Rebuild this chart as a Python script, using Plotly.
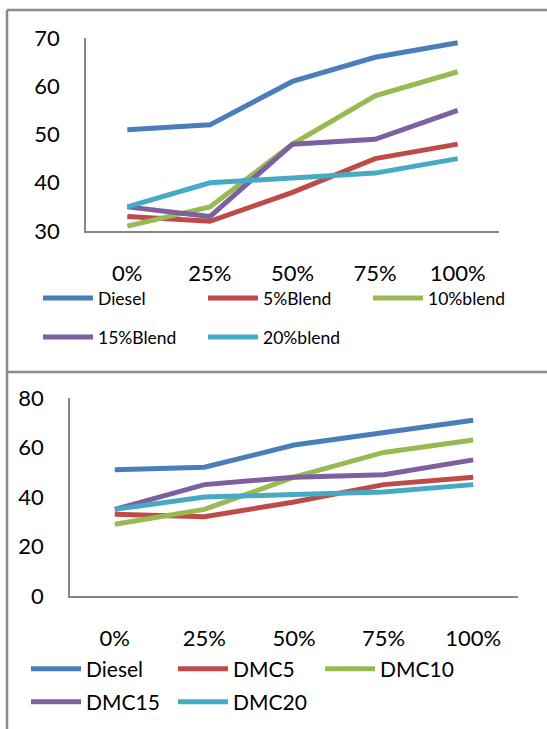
import plotly.graph_objects as go

# Load share categories on the x axis
loads = ["0%", "25%", "50%", "75%", "100%"]

# Upper panel series
top_names = ["Diesel", "5%Blend", "10%blend", "15%Blend", "20%blend"]
top_diesel = [51, 52, 61, 66, 69]
top_b5 = [33, 32, 38, 45, 48]
top_b10 = [31, 35, 48, 58, 63]
top_b15 = [35, 33, 48, 49, 55]
top_b20 = [35, 40, 41, 42, 45]

# Lower panel series
bot_names = ["Diesel", "DMC5", "DMC10", "DMC15", "DMC20"]
bot_diesel = [51, 52, 61, 66, 71]
bot_dmc5 = [33, 32, 38, 45, 48]
bot_dmc10 = [29, 35, 48, 58, 63]
bot_dmc15 = [35, 45, 48, 49, 55]
bot_dmc20 = [35, 40, 41, 42, 45]

colors = ["#4a7ebb", "#be4b48", "#98b954", "#7d60a0", "#46aac5"]

W, H = 547, 729
FONT = "Lato, 'Open Sans', sans-serif"
AXIS_GRAY = "#868686"
FRAME_GRAY = "#8c8c8c"


def px(x):
    return x / W


def py(y):
    return 1 - y / H


fig = go.Figure()

top_series = [top_diesel, top_b5, top_b10, top_b15, top_b20]
bot_series = [bot_diesel, bot_dmc5, bot_dmc10, bot_dmc15, bot_dmc20]

# Legend rows: first three entries on row one, the rest on row two
for i, (name, vals) in enumerate(zip(top_names, top_series)):
    fig.add_trace(go.Scatter(
        x=loads, y=vals, name=name, mode="lines",
        line=dict(color=colors[i], width=5),
        xaxis="x", yaxis="y",
        legend="legend" if i < 3 else "legend2",
    ))

for i, (name, vals) in enumerate(zip(bot_names, bot_series)):
    fig.add_trace(go.Scatter(
        x=loads, y=vals, name=name, mode="lines",
        line=dict(color=colors[i], width=5),
        xaxis="x2", yaxis="y2",
        legend="legend3" if i < 3 else "legend4",
    ))

axis_common = dict(
    showline=True, linecolor=AXIS_GRAY, linewidth=1.5,
    showgrid=False, zeroline=False, ticks="", automargin=False,
    tickfont=dict(family=FONT, size=22, color="#000000"),
)

fig.update_layout(
    template="none",
    width=W, height=H,
    margin=dict(l=0, r=0, t=0, b=0, autoexpand=False),
    paper_bgcolor="white", plot_bgcolor="white",
    font=dict(family=FONT, color="#000000"),
    xaxis=dict(domain=[px(86), px(499)], anchor="y", type="category",
               range=[-0.5, 4.5], ticklabelstandoff=22, **axis_common),
    yaxis=dict(domain=[py(231), py(38)], anchor="x", range=[30, 70],
               dtick=10, ticklabelstandoff=20, **axis_common),
    xaxis2=dict(domain=[px(70), px(518)], anchor="y2", type="category",
                range=[-0.5, 4.5], ticklabelstandoff=22, **axis_common),
    yaxis2=dict(domain=[py(596), py(398)], anchor="x2", range=[0, 80],
                dtick=20, ticklabelstandoff=20, **axis_common),
)

legend_top = dict(orientation="h", xanchor="left", yanchor="middle",
                  bgcolor="rgba(0,0,0,0)", itemwidth=50,
                  entrywidthmode="pixels", entrywidth=100,
                  font=dict(family=FONT, size=17.5, color="#000000"),
                  itemclick=False, itemdoubleclick=False)
legend_bot = dict(legend_top, entrywidth=82,
                  font=dict(family=FONT, size=21, color="#000000"))

fig.update_layout(
    legend=dict(legend_top, x=px(38), y=py(298)),
    legend2=dict(legend_top, x=px(38), y=py(337)),
    legend3=dict(legend_bot, x=px(26), y=py(669)),
    legend4=dict(legend_bot, x=px(26), y=py(702)),
)

# Outer frames around the two chart panels
frame = dict(type="line", xref="paper", yref="paper",
             line=dict(color=FRAME_GRAY, width=2.5))
fig.add_shape(frame, x0=px(7), x1=1.01, y0=py(10), y1=py(10))
fig.add_shape(frame, x0=px(7), x1=px(7), y0=py(10), y1=-0.01)
fig.add_shape(frame, x0=px(7), x1=1.01, y0=py(372), y1=py(372))

fig.write_html("out.html")
